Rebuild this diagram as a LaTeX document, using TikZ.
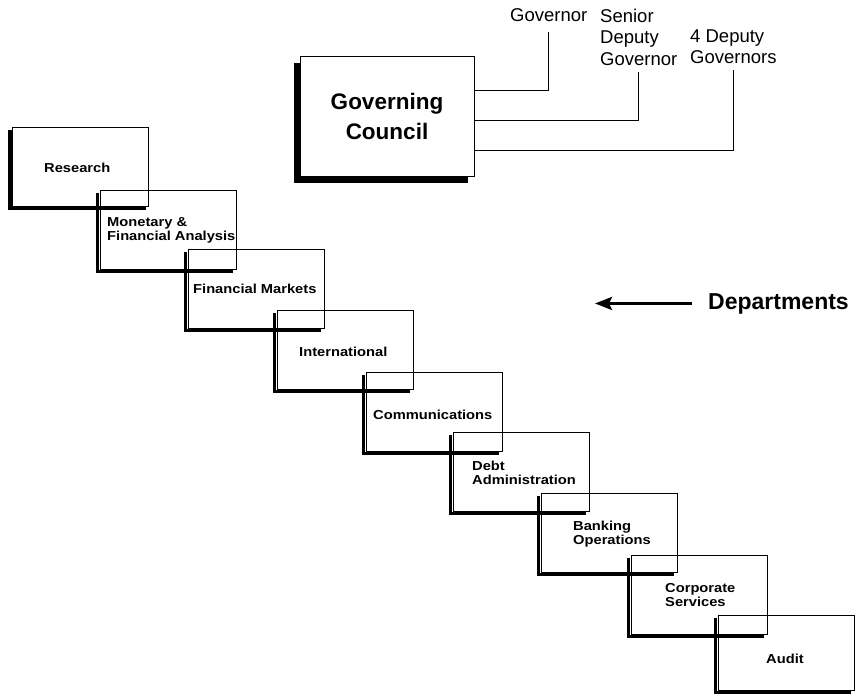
\documentclass[tikz,border=0pt]{standalone}
\usepackage{fontspec}
\setmainfont{Liberation Sans}
\newfontfamily\lblfont[FakeStretch=1.13]{Liberation Sans}
\usetikzlibrary{arrows.meta,shadows}
\begin{document}
\begin{tikzpicture}[x=1pt,y=1pt,
  dept/.style={draw, line width=0.6pt, minimum width=136pt, minimum height=79pt, inner sep=0pt, anchor=north west},
  shadowline/.style={line width=3.5pt},
  lbl/.style={inner sep=0pt, align=left, font=\lblfont\bfseries\fontsize{13}{14}\selectfont},
  toplbl/.style={inner sep=0pt, align=left, font=\fontsize{18.5}{21.5}\selectfont},
  conn/.style={line width=0.9pt},
  council/.style={draw, line width=0.9pt, fill=white, minimum width=174pt, minimum height=120pt, align=center,
    font=\bfseries\fontsize{22.5}{30}\selectfont,
    drop shadow={shadow xshift=-6pt, shadow yshift=-7pt, fill=black, opacity=1}},
  arr/.style={line width=3pt, -{Stealth[length=17pt, width=13pt, inset=3pt]}}]
\useasboundingbox (0,0) rectangle (863,-698);

% Governing council
\node[council] (gc) at (387,-116) {Governing\\Council};

% top labels
\node[toplbl, anchor=base west] (gov) at (510,-22) {Governor};
\node[toplbl, anchor=north west] (sdg) at (600,-8.5) {Senior\\Deputy\\Governor};
\node[toplbl, anchor=north west] (ddg) at (690,-29.5) {4 Deputy\\Governors};

\draw[conn] ([yshift=26pt]gc.east) -| ([yshift=-10pt]gov.south);
\draw[conn] ([yshift=-4pt]gc.east) -| ([yshift=-7pt]sdg.south);
\draw[conn] ([yshift=-34pt]gc.east) -| ([yshift=-5.5pt]ddg.south);

% departments
\node[dept] (d1) at (12,-127) {};
\node[dept] (d2) at (99.5,-190) {};
\node[dept] (d3) at (187.5,-249) {};
\node[dept] (d4) at (276.5,-310) {};
\node[dept] (d5) at (365.5,-372) {};
\node[dept] (d6) at (452.5,-432) {};
\node[dept] (d7) at (540.5,-493) {};
\node[dept] (d8) at (630.5,-555) {};
\node[dept, minimum height=75pt] (d9) at (717.5,-615) {};

\foreach \d in {d1,d2,d3,d4,d5,d6,d7,d8,d9}{
  \draw[shadowline] ([shift={(-2pt,-3pt)}]\d.north west) -- ([shift={(-2pt,-2pt)}]\d.south west) -- ([shift={(-3pt,-2pt)}]\d.south east);
}

\node[lbl, anchor=base west] (t1) at (44,-173) {Research};
\node[lbl, anchor=west] (t2) at (107,-230) {Monetary \&\\Financial Analysis};
\node[lbl, anchor=base west] (t3) at (193,-294) {Financial Markets};
\node[lbl, anchor=base west] (t4) at (299,-356) {International};
\node[lbl, anchor=base west] (t5) at (373,-419) {Communications};
\node[lbl, anchor=west] (t6) at (472,-473) {Debt\\Administration};
\node[lbl, anchor=west] (t7) at (573,-534) {Banking\\Operations};
\node[lbl, anchor=west] (t8) at (665,-595) {Corporate\\Services};
\node[lbl, anchor=base west] (t9) at (766,-663) {Audit};

% departments arrow
\node[inner sep=0pt, anchor=base west, font=\bfseries\fontsize{23}{26}\selectfont] (dep) at (708,-309) {Departments};
\coordinate (arrtip) at (595,-303);
\draw[arr] ([xshift=-16pt]dep.west) -- (arrtip |- dep.west);
\end{tikzpicture}
\end{document}
